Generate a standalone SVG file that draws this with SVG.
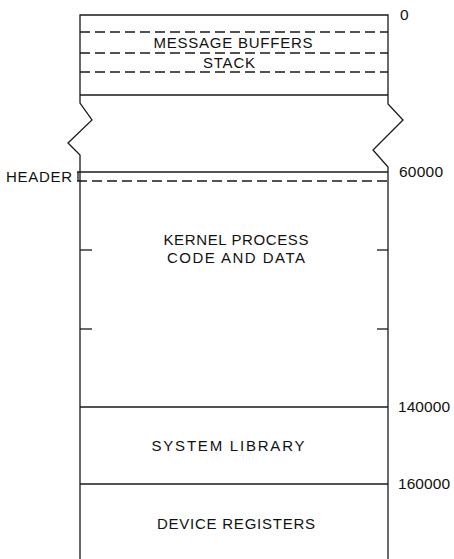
<svg xmlns="http://www.w3.org/2000/svg" width="454" height="559" viewBox="0 0 454 559">
<style>
.ln{stroke:#1a1a1a;stroke-width:1.3;fill:none}
.ds{stroke:#1a1a1a;stroke-width:1.3;fill:none;stroke-dasharray:10 5}
text{font-family:"Liberation Sans",Arial,sans-serif;font-size:15px;fill:#111}
.n{font-size:15.5px}
.c{text-anchor:middle}
</style>
<rect width="454" height="559" fill="#fff"/>
<g id="outline">
<path class="ln" d="M80,559 V155 L68,143 L92,120 L80,103 V15 H388 V104 L403,120 L373,150 L388,167 V559"/>
</g>
<g id="top-region">
<line class="ds" x1="80" y1="32" x2="388" y2="32"/>
<line class="ds" x1="80" y1="53" x2="388" y2="53"/>
<line class="ds" x1="80" y1="72" x2="388" y2="72"/>
<line class="ln" x1="80" y1="95" x2="388" y2="95"/>
<text x="233" y="47.5" class="c" textLength="159" lengthAdjust="spacing">MESSAGE BUFFERS</text>
<text x="229" y="68" class="c" textLength="52" lengthAdjust="spacing">STACK</text>
<text x="400" y="20" class="n">0</text>
</g>
<g id="kernel">
<line class="ln" x1="77" y1="172" x2="388" y2="172"/>
<line class="ds" x1="77" y1="181" x2="388" y2="181"/>
<line class="ln" x1="78" y1="172" x2="78" y2="181"/>
<text x="6" y="182" textLength="66" lengthAdjust="spacing">HEADER</text>
<text x="399" y="177" class="n" textLength="44" lengthAdjust="spacing">60000</text>
<line class="ln" x1="80" y1="250" x2="92" y2="250"/>
<line class="ln" x1="377" y1="250" x2="388" y2="250"/>
<line class="ln" x1="80" y1="329" x2="92" y2="329"/>
<line class="ln" x1="377" y1="329" x2="388" y2="329"/>
<text x="236" y="245" class="c" textLength="145" lengthAdjust="spacing">KERNEL PROCESS</text>
<text x="236" y="263" class="c" textLength="138" lengthAdjust="spacing">CODE AND DATA</text>
</g>
<g id="system-library">
<line class="ln" x1="80" y1="407" x2="388" y2="407"/>
<text x="398" y="412" class="n" textLength="52" lengthAdjust="spacing">140000</text>
<text x="228" y="451" class="c" textLength="153" lengthAdjust="spacing">SYSTEM LIBRARY</text>
</g>
<g id="device-registers">
<line class="ln" x1="80" y1="484" x2="388" y2="484"/>
<text x="398" y="489" class="n" textLength="52" lengthAdjust="spacing">160000</text>
<text x="236" y="529" class="c" textLength="158" lengthAdjust="spacing">DEVICE REGISTERS</text>
</g>
</svg>
